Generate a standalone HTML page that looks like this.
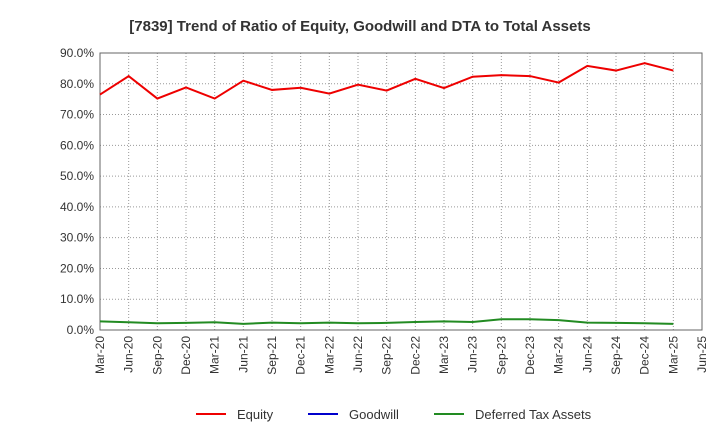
<!DOCTYPE html>
<html><head><meta charset="utf-8"><style>
body{margin:0;background:#fff;font-family:"Liberation Sans",Arial,sans-serif}
</style></head><body>
<svg id="c" width="720" height="440" xmlns="http://www.w3.org/2000/svg">
<text x="360" y="31" text-anchor="middle" font-size="15" font-weight="bold" fill="#333">[7839]  Trend of Ratio of Equity, Goodwill and DTA to Total Assets</text>
<g id="grid"></g><g id="axes"></g><g id="series"></g>
<g>
<line x1="196" y1="414" x2="226" y2="414" stroke="#e00" stroke-width="2"/><text x="237" y="419" font-size="13" fill="#333">Equity</text>
<line x1="308" y1="414" x2="338" y2="414" stroke="#0000cc" stroke-width="2"/><text x="349" y="419" font-size="13" fill="#333">Goodwill</text>
<line x1="434" y1="414" x2="464" y2="414" stroke="#228b22" stroke-width="2"/><text x="475" y="419" font-size="13" fill="#333">Deferred Tax Assets</text>
</g>
</svg>
<script>
const categories=["Mar-20","Jun-20","Sep-20","Dec-20","Mar-21","Jun-21","Sep-21","Dec-21","Mar-22","Jun-22","Sep-22","Dec-22","Mar-23","Jun-23","Sep-23","Dec-23","Mar-24","Jun-24","Sep-24","Dec-24","Mar-25","Jun-25"];
const equity=[76.5,82.5,75.2,78.8,75.2,81.0,78.0,78.7,76.8,79.7,77.8,81.6,78.6,82.3,82.8,82.5,80.4,85.8,84.3,86.7,84.3];
const dta=[2.8,2.5,2.2,2.3,2.5,2.0,2.4,2.2,2.4,2.2,2.3,2.6,2.8,2.6,3.5,3.5,3.2,2.4,2.3,2.2,2.0];
const yTicks=[0,10,20,30,40,50,60,70,80,90];
const L=100,R=702,T=53,B=330,NS="http://www.w3.org/2000/svg";
const x=i=>L+i*(R-L)/(categories.length-1);
const y=v=>B-v/90*(B-T);
function mk(p,t,a){const e=document.createElementNS(NS,t);for(const k in a)e.setAttribute(k,a[k]);document.getElementById(p).appendChild(e);return e;}
yTicks.forEach(v=>{
 const g=mk('grid','line',{x1:L,x2:R,y1:y(v),y2:y(v),stroke:'#999','stroke-dasharray':'1,2'});
 
 
 const t=mk('axes','text',{x:L-6,y:y(v)+4,'text-anchor':'end','font-size':12,fill:'#333'});
 t.textContent=v.toFixed(1)+'%';
 
 
});
categories.forEach((c,i)=>{
 const g=mk('grid','line',{x1:x(i),x2:x(i),y1:T,y2:B,stroke:'#999','stroke-dasharray':'1,2'});
 
 
 const t=mk('axes','text',{x:0,y:0,'text-anchor':'end','font-size':12,fill:'#333',transform:`translate(${x(i)+4},${B+6}) rotate(-90)`});
 t.textContent=c;
 
 
});
const fr=mk('axes','rect',{x:L,y:T,width:R-L,height:B-T,fill:'none',stroke:'#666'});


function line(d,col,name){
 const p=mk('series','polyline',{points:d.map((v,i)=>x(i)+','+y(v)).join(' '),fill:'none',stroke:col,'stroke-width':2});
 
 
}
line(equity,'#e00','equity-line');
line(dta,'#228b22','dta-line');
</script>
</body></html>
